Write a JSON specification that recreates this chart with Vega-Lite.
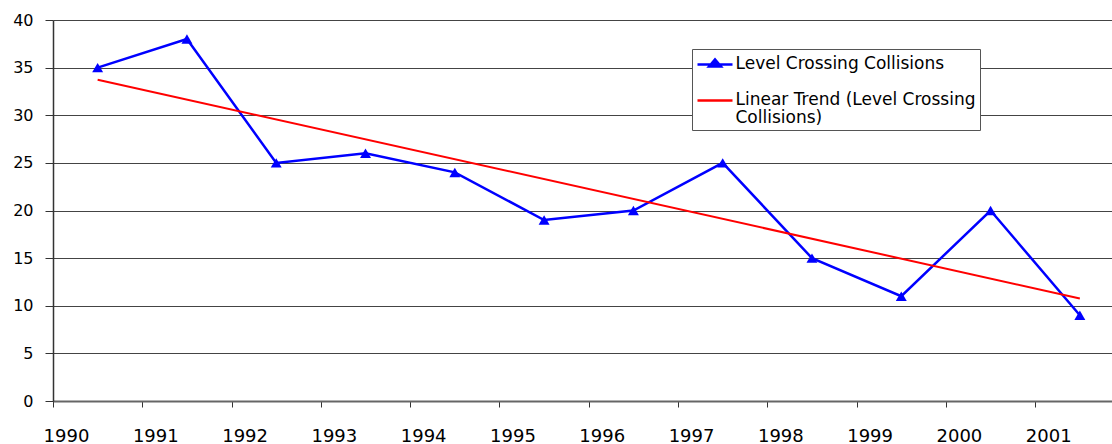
{
  "$schema": "https://vega.github.io/schema/vega-lite/v6.json",
  "width": 1059,
  "height": 381,
  "autosize": {"type": "none"},
  "padding": {"left": 53, "top": 20, "right": 0, "bottom": 43},
  "background": "white",
  "config": {"view": {"stroke": null}, "font": "DejaVu Sans"},
  "data": {
    "values": [
      {"year": 1990, "collisions": 35},
      {"year": 1991, "collisions": 38},
      {"year": 1992, "collisions": 25},
      {"year": 1993, "collisions": 26},
      {"year": 1994, "collisions": 24},
      {"year": 1995, "collisions": 19},
      {"year": 1996, "collisions": 20},
      {"year": 1997, "collisions": 25},
      {"year": 1998, "collisions": 15},
      {"year": 1999, "collisions": 11},
      {"year": 2000, "collisions": 20},
      {"year": 2001, "collisions": 9}
    ]
  },
  "encoding": {
    "x": {
      "field": "year",
      "type": "quantitative",
      "scale": {"domain": [1989.5, 2001.36], "nice": false, "zero": false},
      "axis": {
        "title": null,
        "values": [1989.5, 1990.5, 1991.5, 1992.5, 1993.5, 1994.5, 1995.5, 1996.5, 1997.5, 1998.5, 1999.5, 2000.5],
        "labelExpr": "format(datum.value + 0.5, 'd')",
        "grid": false,
        "domainColor": "#666666",
        "domainWidth": 2,
        "tickColor": "#333333",
        "tickSize": 6,
        "labelFontSize": 18,
        "labelColor": "#000000",
        "labelAlign": "center",
        "labelOffset": 13,
        "labelPadding": 20,
        "labelFlush": false,
        "labelOverlap": false
      }
    },
    "y": {
      "field": "collisions",
      "type": "quantitative",
      "scale": {"domain": [0, 40], "nice": false},
      "axis": {
        "title": null,
        "values": [0, 5, 10, 15, 20, 25, 30, 35, 40],
        "grid": true,
        "gridColor": "#444444",
        "gridWidth": 1,
        "domainColor": "#333333",
        "domainWidth": 1.5,
        "tickColor": "#333333",
        "tickSize": 8,
        "labelFontSize": 16,
        "labelColor": "#000000",
        "labelPadding": 12
      }
    }
  },
  "layer": [
    {
      "mark": {"type": "line", "strokeWidth": 2.5},
      "encoding": {
        "color": {
          "datum": "Level Crossing Collisions",
          "type": "nominal",
          "scale": {
            "domain": ["Level Crossing Collisions", "Linear Trend (Level Crossing Collisions)"],
            "range": ["#0000FF", "#FF0000"]
          },
          "legend": {
            "title": null,
            "orient": "none",
            "legendX": 639,
            "legendY": 29,
            "strokeColor": "#555555",
            "fillColor": "#FFFFFF",
            "padding": 4,
            "symbolSize": 400,
            "symbolOffset": 7.5,
            "symbolStrokeWidth": 2.5,
            "labelFontSize": 17,
            "labelColor": "#000000",
            "labelOffset": 9,
            "labelLimit": 400,
            "rowPadding": 17,
            "labelExpr": "datum.label == 'Linear Trend (Level Crossing Collisions)' ? ['Linear Trend (Level Crossing', 'Collisions)'] : datum.label",
            "encode": {
              "symbols": {
                "update": {
                  "shape": {"signal": "datum.value == 'Level Crossing Collisions' ? 'M-1.75,0H1.75M-0.6,0.2L0,-0.5L0.6,0.2Z' : 'M-1.75,0H1.75'"},
                  "fill": {"signal": "datum.value == 'Level Crossing Collisions' ? '#0000FF' : 'transparent'"}
                }
              },
              "labels": {
                "update": {
                  "baseline": {"value": "top"},
                  "dy": {"value": -9},
                  "lineHeight": {"value": 18.5}
                }
              }
            }
          }
        }
      }
    },
    {
      "mark": {"type": "point", "shape": "triangle-up", "filled": true, "size": 120, "color": "#0000FF", "opacity": 1}
    },
    {
      "transform": [{"regression": "collisions", "on": "year"}],
      "mark": {"type": "line", "strokeWidth": 2},
      "encoding": {
        "color": {"datum": "Linear Trend (Level Crossing Collisions)", "type": "nominal"}
      }
    }
  ]
}
